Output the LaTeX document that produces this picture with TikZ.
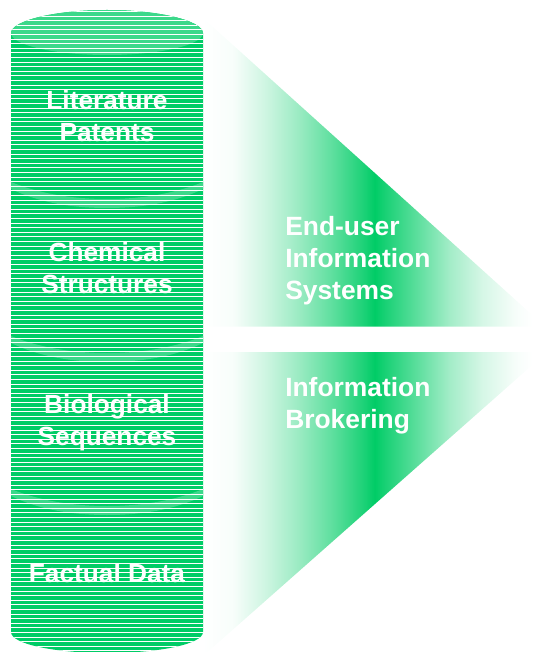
\documentclass[tikz,border=0pt]{standalone}
\usepackage{fontspec}
\setmainfont{Liberation Sans}
\definecolor{dbgreen}{RGB}{0,204,102}
\definecolor{dblight}{RGB}{60,216,138}
\pgfdeclarehorizontalshading{fadeshade}{100bp}{color(0bp)=(white); color(25bp)=(white); color(29.6bp)=(dbgreen!3!white); color(34.7bp)=(dbgreen!20!white); color(39.7bp)=(dbgreen!40!white); color(44.8bp)=(dbgreen!64!white); color(49.6bp)=(dbgreen!90!white); color(51.1bp)=(dbgreen); color(52.7bp)=(dbgreen!90!white); color(57.5bp)=(dbgreen!64!white); color(62.5bp)=(dbgreen!36!white); color(67.5bp)=(dbgreen!16!white); color(72.7bp)=(dbgreen!3!white); color(75bp)=(white); color(100bp)=(white)}
\tikzset{
  dblabel/.style={anchor=center,inner sep=0.75pt,text=white,font=\bfseries\fontsize{19.7}{24}\selectfont,align=center},
  funnellabel/.style={anchor=north west,inner sep=0.75pt,text=white,font=\bfseries\fontsize{19.8}{24}\selectfont,align=left},
  fade/.style={shading=fadeshade}
}
\begin{document}
\begin{tikzpicture}[x=0.75pt,y=0.75pt,yscale=-1,xscale=1]
\useasboundingbox (0,0) rectangle (532,652);

%Shape: upper funnel
\begin{scope}
\clip (203,18) -- (545,326.5) -- (203,326.5) -- cycle ;
\shade [fade] (203,10) rectangle (532,330) ;
\end{scope}
%Shape: lower funnel
\begin{scope}
\clip (203,656) -- (547,352) -- (203,352) -- cycle ;
\shade [fade] (203,350) rectangle (532,656) ;
\end{scope}

%Shape: stack of drums
\begin{scope}
\clip (11,33) .. controls (11,21) and (54,10) .. (107,10) .. controls (160,10) and (203,21) .. (203,33) -- (203,632) .. controls (203,644) and (160,653) .. (107,653) .. controls (54,653) and (11,644) .. (11,632) -- cycle ;
\fill [dbgreen] (0,0) rectangle (215,652) ;
%top of first drum
\fill [dblight] (11,33) .. controls (11,21) and (54,10) .. (107,10) .. controls (160,10) and (203,21) .. (203,33) .. controls (203,45) and (160,55) .. (107,55) .. controls (54,55) and (11,45) .. (11,33) -- cycle ;
%rims of the other drums
\fill [dblight] (11,182) .. controls (38,193) and (70,199) .. (107,199) .. controls (144,199) and (176,193) .. (203,182) -- (203,189) .. controls (176,202) and (144,208) .. (107,208) .. controls (70,208) and (38,202) .. (11,189) -- cycle ;
\fill [dblight] (11,336) .. controls (38,347) and (70,353) .. (107,353) .. controls (144,353) and (176,347) .. (203,336) -- (203,343) .. controls (176,356) and (144,362) .. (107,362) .. controls (70,362) and (38,356) .. (11,343) -- cycle ;
\fill [dblight] (11,489) .. controls (38,500) and (70,506) .. (107,506) .. controls (144,506) and (176,500) .. (203,489) -- (203,496) .. controls (176,509) and (144,515) .. (107,515) .. controls (70,515) and (38,509) .. (11,496) -- cycle ;
%white stripes
\draw [white,line width=144pt,dash pattern={on 0.6pt off 2.85pt}] (107,11) -- (107,652) ;
\end{scope}

% Text Node
\node (lit) [dblabel] at (107,116) {Literature\\Patents};
% Text Node
\node (chem) [dblabel] at (107,268) {Chemical\\Structures};
% Text Node
\node (bio) [dblabel] at (107,423) {Biological\\Sequences};
% Text Node
\node (fact) [dblabel] at (107,573) {Factual Data};
% Text Node
\node (enduser) [funnellabel] at (284,215) {End-user\\Information\\Systems};
% Text Node
\node (broker) [funnellabel] at (284,376) {Information\\Brokering};
\end{tikzpicture}
\end{document}
